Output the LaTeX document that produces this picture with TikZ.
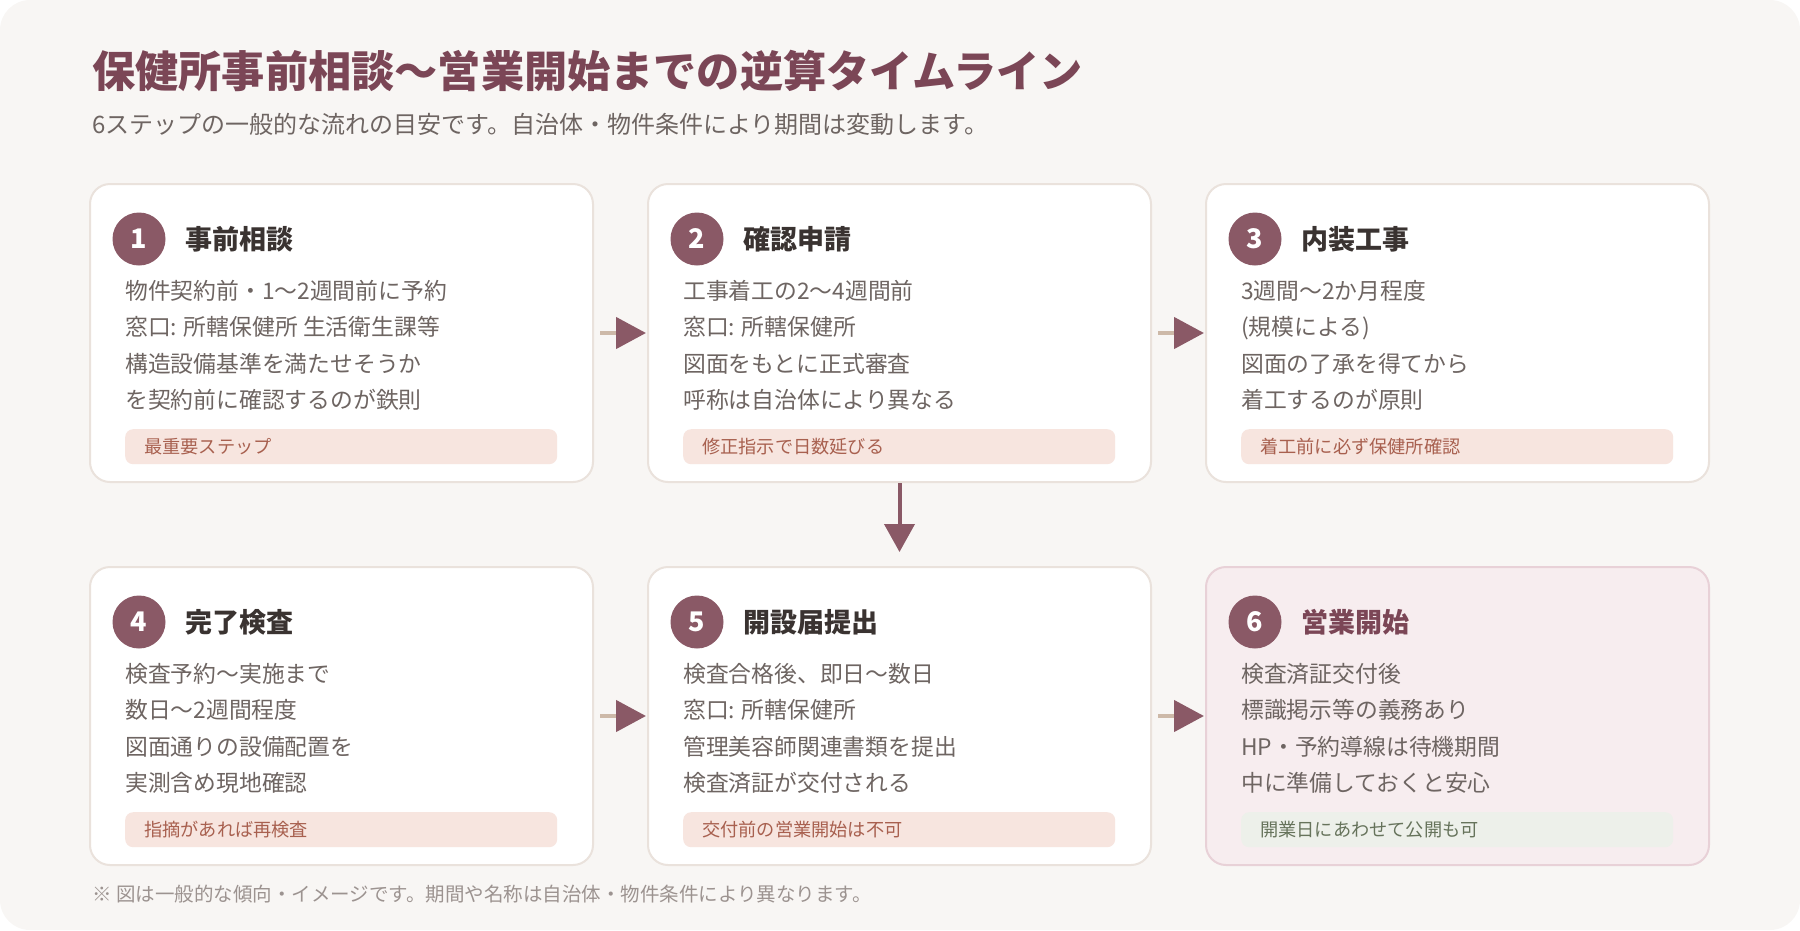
\documentclass[tikz,border=0pt]{standalone}
\usepackage{fontspec}
\setmainfont{Noto Sans CJK JP}
\usetikzlibrary{positioning,arrows.meta}
\definecolor{pagebg}{HTML}{F8F6F4}
\definecolor{cardline}{HTML}{EAE2DC}
\definecolor{mauve}{HTML}{8A5966}
\definecolor{headcol}{HTML}{7B4656}
\definecolor{inkdark}{HTML}{3A3331}
\definecolor{inkgray}{HTML}{6E6562}
\definecolor{notegray}{HTML}{9C9390}
\definecolor{tagfill}{HTML}{F7E5DF}
\definecolor{tagink}{HTML}{A8604F}
\definecolor{okfill}{HTML}{EDF0EA}
\definecolor{okink}{HTML}{66735B}
\definecolor{goalfill}{HTML}{F7EDEF}
\definecolor{goalline}{HTML}{E8D1D7}
\definecolor{linkbeige}{HTML}{CDB9A8}
\tikzset{
	card/.style={draw=cardline, line width=2pt, fill=white, rounded corners=20pt,
		minimum width=503pt, minimum height=298pt, inner sep=0pt},
	goalcard/.style={card, draw=goalline, fill=goalfill},
	numdot/.style={circle, fill=mauve, text=white, minimum size=53pt, inner sep=0pt,
		font=\bfseries\fontsize{27}{27}\selectfont},
	steptitle/.style={text=inkdark, inner sep=0pt, font=\bfseries\fontsize{27}{27}\selectfont},
	bodytext/.style={text=inkgray, align=left, inner sep=0pt, font=\fontsize{22.8}{36.5}\selectfont},
	tagbox/.style={fill=tagfill, text=tagink, rounded corners=8pt, text width=394pt,
		inner xsep=19pt, inner ysep=0pt, minimum height=35pt, align=left,
		font=\fontsize{18.2}{18.2}\selectfont},
	oktag/.style={tagbox, fill=okfill, text=okink},
	hflow/.style={line width=4.5pt, draw=linkbeige, -{Triangle[length=30pt,width=31pt,color=mauve]}},
	vflow/.style={line width=4pt, draw=mauve, -{Triangle[length=28pt,width=30pt]}}
}
\begin{document}
\begin{tikzpicture}
	
	\fill[pagebg, rounded corners=30pt] (0,0) rectangle (1800pt,-930pt);
	\useasboundingbox (0,0) rectangle (1800pt,-930pt);
	
	\node[anchor=west, inner sep=0pt, text=headcol,
	font=\bfseries\fontsize{43.2}{43.2}\selectfont] (head) at (92pt,-71pt)
	{保健所事前相談〜営業開始までの逆算タイムライン};
	\node[anchor=west, inner sep=0pt, text=inkgray,
	font=\fontsize{24}{24}\selectfont] (sub) at (92pt,-124pt)
	{6ステップの一般的な流れの目安です。自治体・物件条件により期間は変動します。};
	
	% row 1
	\node[card, anchor=north west] (c1) at (89pt,-183pt) {};
	\node[card, right=53pt of c1] (c2) {};
	\node[card, right=53pt of c2] (c3) {};
	
	% row 2
	\node[card, below=83pt of c1] (c4) {};
	\node[card, below=83pt of c2] (c5) {};
	\node[goalcard, below=83pt of c3] (c6) {};
	
	\node[numdot] (n1) at ([shift={(50pt,-56pt)}]c1.north west) {1};
	\node[steptitle, right=20pt of n1] (t1) {事前相談};
	\node[bodytext, anchor=north west] (b1) at ([shift={(36pt,-97pt)}]c1.north west)
	{物件契約前・1〜2週間前に予約\\
		窓口: 所轄保健所 生活衛生課等\\
		構造設備基準を満たせそうか\\
		を契約前に確認するのが鉄則};
	\node[tagbox, anchor=north west] (g1) at ([shift={(36pt,-246pt)}]c1.north west) {最重要ステップ};
	
	\node[numdot] (n2) at ([shift={(50pt,-56pt)}]c2.north west) {2};
	\node[steptitle, right=20pt of n2] (t2) {確認申請};
	\node[bodytext, anchor=north west] (b2) at ([shift={(36pt,-97pt)}]c2.north west)
	{工事着工の2〜4週間前\\
		窓口: 所轄保健所\\
		図面をもとに正式審査\\
		呼称は自治体により異なる};
	\node[tagbox, anchor=north west] (g2) at ([shift={(36pt,-246pt)}]c2.north west) {修正指示で日数延びる};
	
	\node[numdot] (n3) at ([shift={(50pt,-56pt)}]c3.north west) {3};
	\node[steptitle, right=20pt of n3] (t3) {内装工事};
	\node[bodytext, anchor=north west] (b3) at ([shift={(36pt,-97pt)}]c3.north west)
	{3週間〜2か月程度\\
		(規模による)\\
		図面の了承を得てから\\
		着工するのが原則};
	\node[tagbox, anchor=north west] (g3) at ([shift={(36pt,-246pt)}]c3.north west) {着工前に必ず保健所確認};
	
	\node[numdot] (n4) at ([shift={(50pt,-56pt)}]c4.north west) {4};
	\node[steptitle, right=20pt of n4] (t4) {完了検査};
	\node[bodytext, anchor=north west] (b4) at ([shift={(36pt,-97pt)}]c4.north west)
	{検査予約〜実施まで\\
		数日〜2週間程度\\
		図面通りの設備配置を\\
		実測含め現地確認};
	\node[tagbox, anchor=north west] (g4) at ([shift={(36pt,-246pt)}]c4.north west) {指摘があれば再検査};
	
	\node[numdot] (n5) at ([shift={(50pt,-56pt)}]c5.north west) {5};
	\node[steptitle, right=20pt of n5] (t5) {開設届提出};
	\node[bodytext, anchor=north west] (b5) at ([shift={(36pt,-97pt)}]c5.north west)
	{検査合格後、即日〜数日\\
		窓口: 所轄保健所\\
		管理美容師関連書類を提出\\
		検査済証が交付される};
	\node[tagbox, anchor=north west] (g5) at ([shift={(36pt,-246pt)}]c5.north west) {交付前の営業開始は不可};
	
	\node[numdot] (n6) at ([shift={(50pt,-56pt)}]c6.north west) {6};
	\node[steptitle, text=headcol, right=20pt of n6] (t6) {営業開始};
	\node[bodytext, anchor=north west] (b6) at ([shift={(36pt,-97pt)}]c6.north west)
	{検査済証交付後\\
		標識掲示等の義務あり\\
		HP・予約導線は待機期間\\
		中に準備しておくと安心};
	\node[oktag, anchor=north west] (g6) at ([shift={(36pt,-246pt)}]c6.north west) {開業日にあわせて公開も可};
	
	\draw[hflow] ([xshift=6pt]c1.east) -- ([xshift=-1pt]c2.west);
	\draw[hflow] ([xshift=6pt]c2.east) -- ([xshift=-1pt]c3.west);
	\draw[vflow] (c2.south) -- ([yshift=14pt]c5.north);
	\draw[hflow] ([xshift=6pt]c4.east) -- ([xshift=-1pt]c5.west);
	\draw[hflow] ([xshift=6pt]c5.east) -- ([xshift=-1pt]c6.west);
	
	\node[anchor=west, inner sep=0pt, text=notegray,
	font=\fontsize{19.5}{19.5}\selectfont] (note) at (92pt,-894pt)
	{※ 図は一般的な傾向・イメージです。期間や名称は自治体・物件条件により異なります。};
	
\end{tikzpicture}
\end{document}
